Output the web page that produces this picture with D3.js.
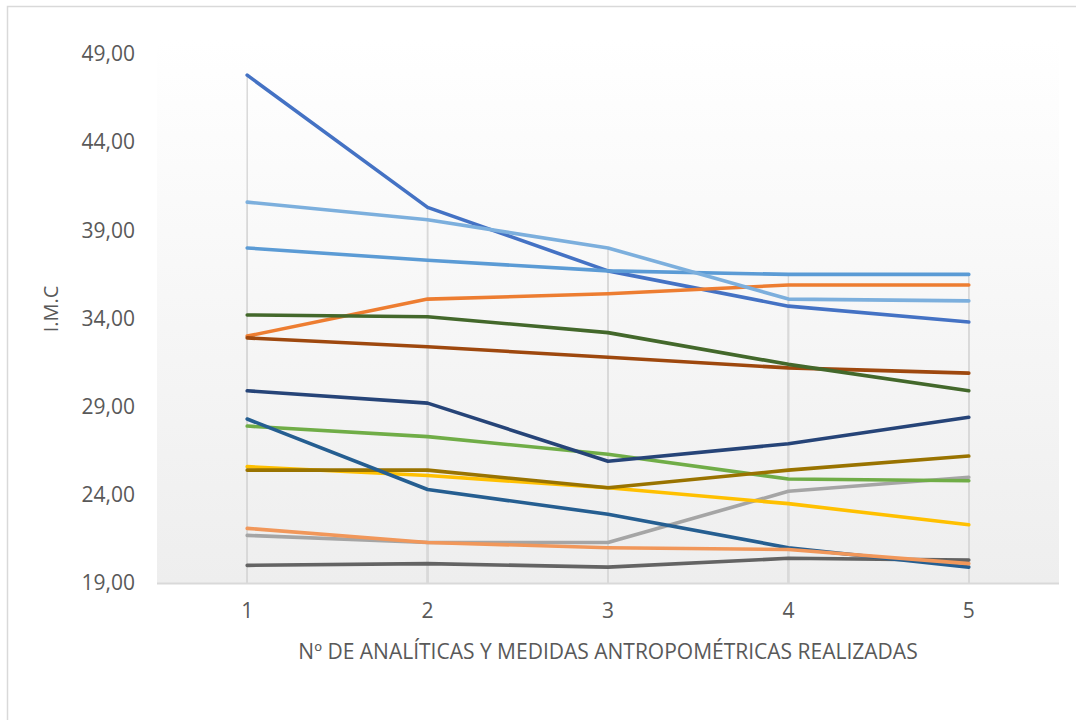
<!DOCTYPE html>
<html>
<head>
<meta charset="utf-8">
<script src="https://cdn.jsdelivr.net/npm/d3@7"></script>
<style>
  html, body { margin: 0; padding: 0; background: #fff; }
  svg { display: block; font-family: "Open Sans", "DejaVu Sans", sans-serif; }
</style>
</head>
<body>
<svg id="chart" width="1076" height="720"></svg>
<script>
// Measurement rounds (x axis categories)
const rounds = [1, 2, 3, 4, 5];

// BMI per patient across the five rounds
const patient01 = [47.8, 40.3, 36.7, 34.7, 33.8];
const patient02 = [33.0, 35.1, 35.4, 35.9, 35.9];
const patient03 = [21.7, 21.3, 21.3, 24.2, 25.0];
const patient04 = [25.6, 25.1, 24.4, 23.5, 22.3];
const patient05 = [38.0, 37.3, 36.7, 36.5, 36.5];
const patient06 = [27.9, 27.3, 26.3, 24.9, 24.8];
const patient07 = [29.9, 29.2, 25.9, 26.9, 28.4];
const patient08 = [32.9, 32.4, 31.8, 31.2, 30.9];
const patient09 = [20.0, 20.1, 19.9, 20.4, 20.3];
const patient10 = [25.4, 25.4, 24.4, 25.4, 26.2];
const patient11 = [28.3, 24.3, 22.9, 21.0, 19.9];
const patient12 = [34.2, 34.1, 33.2, 31.4, 29.9];
const patient13 = [40.6, 39.6, 38.0, 35.1, 35.0];
const patient14 = [22.1, 21.3, 21.0, 20.9, 20.1];

const seriesValues = [patient01, patient02, patient03, patient04, patient05, patient06, patient07,
                      patient08, patient09, patient10, patient11, patient12, patient13, patient14];
const seriesColors = ["#4472C4", "#ED7D31", "#A5A5A5", "#FFC000", "#5B9BD5", "#70AD47", "#264478",
                      "#9E480E", "#636363", "#997300", "#255E91", "#43682B", "#7CAFDD", "#F1975A"];

// Value axis ticks
const yTicks = [19, 24, 29, 34, 39, 44, 49];

const yTitle = "I.M.C";
const xTitle = "Nº DE ANALÍTICAS Y MEDIDAS ANTROPOMÉTRICAS REALIZADAS";

const svg = d3.select("#chart");

// Chart frame
svg.append("rect")
  .attr("x", 7.5).attr("y", 6.5)
  .attr("width", 1100).attr("height", 800)
  .attr("fill", "#fff").attr("stroke", "#d9d9d9").attr("stroke-width", 1.5);

const plot = { left: 157, right: 1059, top: 54, bottom: 583 };

const x = d3.scaleBand().domain(rounds).range([plot.left, plot.right]);
const cx = d => x(d) + x.bandwidth() / 2;
const y = d3.scaleLinear().domain([19, 49]).range([plot.bottom, plot.top]);

// Plot area background: soft vertical gradient
const defs = svg.append("defs");
const grad = defs.append("linearGradient").attr("id", "plotFill")
  .attr("x1", 0).attr("y1", 0).attr("x2", 0).attr("y2", 1);
grad.append("stop").attr("offset", "0%").attr("stop-color", "#ffffff");
grad.append("stop").attr("offset", "100%").attr("stop-color", "#eeeeee");

svg.append("rect")
  .attr("x", plot.left).attr("y", 40)
  .attr("width", plot.right - plot.left).attr("height", plot.bottom - 40)
  .attr("fill", "url(#plotFill)");

// Drop lines from each point down to the category axis
const drops = svg.append("g");
seriesValues.forEach(vals => {
  vals.forEach((v, i) => {
    drops.append("line")
      .attr("x1", cx(rounds[i])).attr("x2", cx(rounds[i]))
      .attr("y1", y(v)).attr("y2", plot.bottom)
      .attr("stroke", "#d9d9d9").attr("stroke-width", 1.5);
  });
});

// Category axis line
svg.append("line")
  .attr("x1", plot.left).attr("x2", plot.right)
  .attr("y1", plot.bottom + 0.5).attr("y2", plot.bottom + 0.5)
  .attr("stroke", "#d9d9d9").attr("stroke-width", 2);

// Lines
const line = d3.line()
  .x((d, i) => cx(rounds[i]))
  .y(d => y(d));

const linesG = svg.append("g");
seriesValues.forEach((vals, k) => {
  linesG.append("path")
    .datum(vals)
    .attr("d", line)
    .attr("fill", "none")
    .attr("stroke", seriesColors[k])
    .attr("stroke-width", 3.6)
    .attr("stroke-linejoin", "round")
    .attr("stroke-linecap", "round");
});

// Value axis labels
const commaLocale = d3.formatLocale({ decimal: ",", thousands: ".", grouping: [3], currency: ["", "€"] });
const fmt = commaLocale.format(".2f");

const yAxis = svg.append("g")
  .attr("transform", `translate(${plot.left - 12},0)`)
  .call(d3.axisLeft(y).tickValues(yTicks).tickFormat(fmt).tickSize(0).tickPadding(10));
yAxis.select(".domain").remove();
yAxis.selectAll("text")
  .attr("font-family", "Open Sans, DejaVu Sans, sans-serif")
  .attr("font-size", 21).attr("fill", "#595959");

// Category axis labels
const xAxis = svg.append("g")
  .attr("transform", `translate(0,${plot.bottom})`)
  .call(d3.axisBottom(x).tickSize(0).tickPadding(20));
xAxis.select(".domain").remove();
xAxis.selectAll("text")
  .attr("font-family", "Open Sans, DejaVu Sans, sans-serif")
  .attr("font-size", 21).attr("fill", "#595959");

// Axis titles
svg.append("text")
  .attr("x", (plot.left + plot.right) / 2).attr("y", 659)
  .attr("text-anchor", "middle")
  .attr("font-size", 21).attr("fill", "#595959")
  .text(xTitle);

svg.append("text")
  .attr("transform", "translate(58,309) rotate(-90)")
  .attr("text-anchor", "middle")
  .attr("font-size", 20).attr("fill", "#595959")
  .text(yTitle);
</script>
</body>
</html>
